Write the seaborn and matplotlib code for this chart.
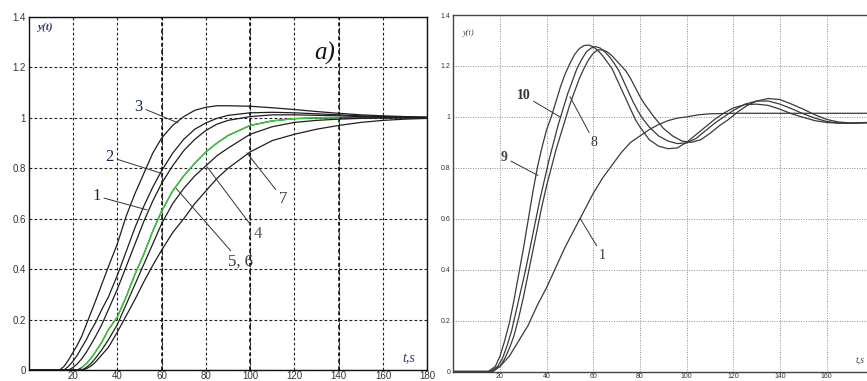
import numpy as np
import pandas as pd
import matplotlib
matplotlib.use("Agg")
import matplotlib.pyplot as plt
import seaborn as sns

# ---------------- data: left panel (a) ----------------
T_LEFT = [0, 14, 16, 18, 20, 22, 24, 26, 28, 30, 33, 36, 40, 44, 48, 52, 56, 60,
          65, 70, 75, 80, 85, 90, 100, 110, 120, 130, 140, 150, 160, 170, 180]
Y_CURVE3 = [0, 0, 0.015, 0.04, 0.07, 0.10, 0.135, 0.18, 0.225, 0.27, 0.34, 0.41, 0.50,
            0.61, 0.70, 0.78, 0.86, 0.92, 0.97, 1.005, 1.03, 1.042, 1.048, 1.048, 1.046,
            1.04, 1.033, 1.025, 1.018, 1.012, 1.008, 1.005, 1.003]
Y_CURVE2 = [0, 0, 0, 0.015, 0.035, 0.06, 0.09, 0.12, 0.155, 0.185, 0.24, 0.29, 0.375,
            0.47, 0.565, 0.65, 0.725, 0.79, 0.86, 0.915, 0.955, 0.98, 0.998, 1.01, 1.02,
            1.022, 1.02, 1.016, 1.012, 1.008, 1.005, 1.003, 1.002]
Y_CURVE1 = [0, 0, 0, 0, 0.01, 0.025, 0.045, 0.07, 0.10, 0.13, 0.18, 0.24, 0.32,
            0.41, 0.50, 0.59, 0.67, 0.74, 0.81, 0.87, 0.915, 0.95, 0.975, 0.99, 1.005,
            1.012, 1.012, 1.01, 1.008, 1.005, 1.003, 1.002, 1.001]
Y_CURVE56 = [0, 0, 0, 0, 0, 0, 0.01, 0.025, 0.045, 0.07, 0.11, 0.16, 0.21,
             0.29, 0.38, 0.46, 0.55, 0.63, 0.71, 0.77, 0.82, 0.865, 0.90, 0.93, 0.97,
             0.988, 0.997, 1.0, 1.0, 1.0, 1.0, 1.0, 1.0]
Y_CURVE4 = [0, 0, 0, 0, 0, 0, 0, 0.01, 0.025, 0.045, 0.08, 0.12, 0.18,
            0.26, 0.34, 0.42, 0.50, 0.58, 0.66, 0.72, 0.77, 0.81, 0.85, 0.88, 0.935,
            0.965, 0.982, 0.99, 0.995, 0.998, 1.0, 1.0, 1.0]
Y_CURVE7 = [0, 0, 0, 0, 0, 0, 0, 0.005, 0.015, 0.03, 0.06, 0.09, 0.15,
            0.215, 0.28, 0.35, 0.415, 0.475, 0.545, 0.60, 0.66, 0.71, 0.76, 0.80, 0.865,
            0.91, 0.935, 0.955, 0.97, 0.982, 0.99, 0.995, 0.998]

# ---------------- data: right panel ----------------
T_C9 = [0, 15, 18, 20, 22, 24, 26, 28, 30, 32, 34, 36, 38, 40, 42, 44, 46, 48, 50, 52,
        54, 56, 58, 60, 62, 64, 66, 68, 70, 72, 74, 76, 78, 80, 84, 88, 92, 96, 100,
        104, 108, 112, 116, 120, 125, 130, 135, 140, 145, 150, 155, 160, 165, 170, 175, 180]
Y_C9 = [0, 0, 0.02, 0.06, 0.12, 0.19, 0.28, 0.38, 0.48, 0.59, 0.70, 0.80, 0.88, 0.95,
        1.0, 1.06, 1.12, 1.17, 1.21, 1.245, 1.268, 1.28, 1.282, 1.275, 1.26, 1.24, 1.215,
        1.19, 1.15, 1.11, 1.07, 1.03, 0.99, 0.96, 0.91, 0.885, 0.875, 0.878, 0.90, 0.93,
        0.96, 0.99, 1.015, 1.035, 1.048, 1.05, 1.045, 1.03, 1.012, 0.998, 0.985, 0.978,
        0.975, 0.975, 0.976, 0.977]
T_C10 = [0, 16, 19, 21, 23, 25, 27, 29, 31, 33, 35, 37, 39, 41, 43, 45, 47, 49, 51, 53,
         55, 57, 59, 61, 63, 65, 67, 69, 71, 73, 75, 77, 79, 81, 84, 88, 92, 96, 100,
         104, 108, 112, 116, 120, 125, 130, 135, 140, 145, 150, 155, 160, 165, 170, 175, 180]
Y_C10 = [0, 0, 0.02, 0.05, 0.10, 0.16, 0.24, 0.32, 0.40, 0.49, 0.58, 0.67, 0.75, 0.83,
         0.90, 0.97, 1.03, 1.09, 1.14, 1.19, 1.225, 1.255, 1.27, 1.276, 1.27, 1.255, 1.235,
         1.21, 1.18, 1.14, 1.10, 1.06, 1.025, 0.995, 0.96, 0.925, 0.905, 0.895, 0.898,
         0.915, 0.945, 0.975, 1.0, 1.025, 1.05, 1.062, 1.062, 1.05, 1.032, 1.012, 0.995,
         0.982, 0.976, 0.975, 0.977, 0.979]
T_C8 = [0, 17, 20, 22, 24, 26, 28, 30, 32, 34, 36, 38, 40, 42, 44, 46, 48, 50, 52, 54,
        56, 58, 60, 62, 64, 66, 68, 70, 72, 74, 76, 78, 80, 82, 84, 86, 90, 94, 98, 102,
        106, 110, 114, 118, 122, 126, 130, 135, 140, 145, 150, 155, 160, 165, 170, 175, 180]
Y_C8 = [0, 0, 0.02, 0.05, 0.09, 0.14, 0.21, 0.29, 0.38, 0.47, 0.56, 0.65, 0.73, 0.80,
        0.87, 0.93, 0.99, 1.05, 1.10, 1.15, 1.19, 1.225, 1.25, 1.263, 1.263, 1.255, 1.24,
        1.22, 1.20, 1.18, 1.15, 1.115, 1.08, 1.05, 1.025, 1.0, 0.955, 0.925, 0.905, 0.90,
        0.91, 0.935, 0.965, 0.99, 1.02, 1.045, 1.062, 1.072, 1.068, 1.05, 1.03, 1.008,
        0.99, 0.98, 0.976, 0.977, 0.978]
T_R1 = [0, 16, 20, 24, 28, 32, 36, 40, 44, 48, 52, 56, 60, 64, 68, 72, 76, 80, 84, 88,
        92, 96, 100, 105, 110, 120, 140, 160, 180]
Y_R1 = [0, 0, 0.02, 0.06, 0.12, 0.18, 0.26, 0.33, 0.41, 0.49, 0.56, 0.63, 0.70, 0.76,
        0.81, 0.86, 0.90, 0.925, 0.95, 0.97, 0.985, 0.995, 1.0, 1.008, 1.012, 1.014,
        1.014, 1.014, 1.014]

X_TICKS_LEFT = [20, 40, 60, 80, 100, 120, 140, 160, 180]
X_TICKS_RIGHT = [20, 40, 60, 80, 100, 120, 140, 160]
Y_TICKS = [0, 0.2, 0.4, 0.6, 0.8, 1.0, 1.2, 1.4]
Y_TICKLABELS = ["0", "0.2", "0.4", "0.6", "0.8", "1", "1.2", "1.4"]

# ---------------- figure ----------------
sns.set_style("white")
plt.rcParams["font.family"] = ["Liberation Sans", "DejaVu Sans"]
SERIF = ["Liberation Serif", "DejaVu Serif"]

W, H = 867, 381
fig = plt.figure(figsize=(W / 100, H / 100), dpi=100)
fig.patch.set_facecolor("white")

axL = fig.add_axes([28.7 / W, 11 / H, 398.7 / W, 353 / H])
axR = fig.add_axes([453.3 / W, 9.5 / H, 420 / W, 356.5 / H])

ink = "#1e1e1e"

# left curves
for ys in [Y_CURVE3, Y_CURVE2, Y_CURVE1, Y_CURVE56, Y_CURVE4, Y_CURVE7]:
    sns.lineplot(x=T_LEFT, y=ys, ax=axL, color=ink, linewidth=0.9,
                 estimator=None, sort=False, zorder=3)
green_t = [t for t in T_LEFT if 24 <= t <= 140]
green_y = [y for t, y in zip(T_LEFT, Y_CURVE56) if 24 <= t <= 140]
sns.lineplot(x=green_t, y=green_y, ax=axL, color="#39d039", linewidth=1.0,
             estimator=None, sort=False, zorder=4)

# right curves
for ts, ys in [(T_C9, Y_C9), (T_C10, Y_C10), (T_C8, Y_C8), (T_R1, Y_R1)]:
    sns.lineplot(x=ts, y=ys, ax=axR, color="#3a3a3a", linewidth=0.9,
                 estimator=None, sort=False, zorder=3)

# axes styling
for ax, xt, fs, gcol, gls, glw in [(axL, X_TICKS_LEFT, 7, "#222222", (0, (2.5, 2)), 0.8),
                                   (axR, X_TICKS_RIGHT, 5, "#8a8a8a", (0, (1, 1.5)), 0.7)]:
    ax.set_xlim(0, 180)
    ax.set_ylim(0, 1.4)
    ax.set_xticks(xt)
    ax.set_yticks(Y_TICKS)
    ax.set_yticklabels(Y_TICKLABELS)
    ax.tick_params(axis="y", length=0, labelsize=fs, colors="#333333", pad=2)
    ax.tick_params(axis="x", length=0, labelsize=fs, colors="#333333", pad=0.8)
    ax.set_xlabel("")
    ax.set_ylabel("")
    ax.grid(True, color=gcol, linestyle=gls, linewidth=glw)
    ax.set_axisbelow(True)

for sp in axL.spines.values():
    sp.set_color("#111111")
    sp.set_linewidth(1.0)
for name, sp in axR.spines.items():
    sp.set_color("#444444")
    sp.set_linewidth(1.0)
axR.spines["right"].set_visible(False)

# left heavier vertical grid lines at 60/100/140
for xv in [60, 100, 140]:
    axL.axvline(xv, color="#000000", linestyle=(0, (2.5, 2)), linewidth=1.1, zorder=1)

# ---------------- annotations: left ----------------
lab_col = "#1a2850"
arrow = dict(arrowstyle="-", color="#333333", linewidth=0.7, shrinkA=0, shrinkB=0)
def lab(ax, s, xy, xyt, fs=12, color=ink, ha="right", va="center", weight="normal"):
    ax.annotate(s, xy=xy, xytext=xyt, fontsize=fs, color=color, family=SERIF,
                ha=ha, va=va, weight=weight, arrowprops=arrow, zorder=5)

lab(axL, "3", (67.4, 0.98), (51.5, 1.045), color=lab_col)
lab(axL, "2", (60.6, 0.778), (38.5, 0.845), color=lab_col)
lab(axL, "1", (53.4, 0.635), (32.5, 0.69), color=lab_col)
lab(axL, "5, 6", (66.6, 0.72), (90.0, 0.46), ha="left", va="top", color="#333333")
lab(axL, "4", (80.5, 0.806), (101.5, 0.57), ha="left", va="top", color="#555555")
lab(axL, "7", (98.5, 0.861), (113.0, 0.71), ha="left", va="top", color="#333333")

axL.text(7.5, 1.36, "y(t)", fontsize=8, style="italic", weight="bold", color="#2a3a6a",
         family=SERIF, ha="center", va="center")
axL.text(133.5, 1.255, "a)", fontsize=18, style="italic", color="#111111",
         family=SERIF, ha="center", va="center")
axL.text(171.5, 0.045, "t,s", fontsize=10, style="italic", color="#2a3a6a",
         family=SERIF, ha="center", va="center")

# ---------------- annotations: right ----------------
lab(axR, "10", (45.7, 1.0), (33.0, 1.085), fs=10, weight="bold", color="#333333")
lab(axR, "8", (50.0, 1.079), (59.0, 0.90), fs=10, ha="left", va="center", color="#333333")
lab(axR, "9", (36.3, 0.77), (23.3, 0.84), fs=10, weight="bold", color="#444444")
lab(axR, "1", (54.3, 0.602), (62.5, 0.455), fs=10, ha="left", va="center", color="#333333")

axR.text(6.5, 1.33, "y(t)", fontsize=6, style="italic", color="#444444",
         family=SERIF, ha="center", va="center")
axR.text(174.5, 0.045, "t,s", fontsize=7, style="italic", color="#444444",
         family=SERIF, ha="center", va="center")

fig.savefig("out.png", dpi=100, facecolor="white")
